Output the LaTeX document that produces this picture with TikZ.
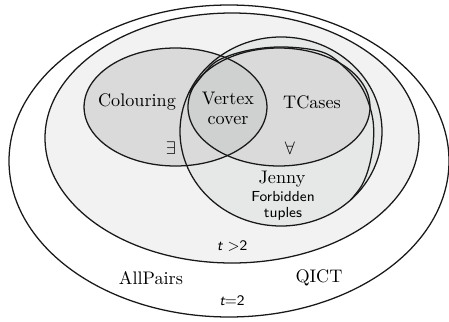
\documentclass[tikz,border=0pt]{standalone}
\usepackage{tikz}
\definecolor{bandgray}{HTML}{F2F2F2}
\definecolor{jennygray}{HTML}{E6E8E8}
\definecolor{setgray}{HTML}{DADADA}
\definecolor{capgray}{HTML}{CFD0D0}
\tikzset{
  outline/.style={draw=black!90, line width=0.7pt},
  lbl/.style={font=\fontsize{10}{11}\selectfont, align=center, inner sep=0pt},
  sflbl/.style={font=\sffamily\fontsize{8}{8.6}\selectfont, align=center, inner sep=0pt},
}
\begin{document}
\begin{tikzpicture}[x=0.55pt,y=-0.55pt]
\useasboundingbox (0,0) rectangle (449,322);
\fill[white] (0,0) rectangle (449,322);
% fills
\fill[white] (229,161) ellipse [x radius=121pt, y radius=85.8pt];
\fill[bandgray] (232,138) ellipse [x radius=102.85pt, y radius=68.75pt];
\fill[jennygray] (281,131.5) ellipse [x radius=55.55pt, y radius=51.98pt];
\fill[setgray] (175.5,107) ellipse [x radius=50.3pt, y radius=32.45pt];
\fill[setgray] (279,107) ellipse [x radius=50.05pt, y radius=32.45pt];
\begin{scope}
  \clip (175.5,107) ellipse [x radius=50.3pt, y radius=32.45pt];
  \fill[capgray] (279,107) ellipse [x radius=50.05pt, y radius=32.45pt];
\end{scope}
% outlines
\draw[outline] (229,161) ellipse [x radius=121pt, y radius=85.8pt];
\draw[outline] (232,138) ellipse [x radius=102.85pt, y radius=68.75pt];
\draw[outline] (281,131.5) ellipse [x radius=55.55pt, y radius=51.98pt];
\draw[outline] plot[smooth, tension=0.6] coordinates {
  (188.7,93) (207,70) (221,59) (250,50) (285,47) (322,52) (343,66)
  (362,88) (372,115) (373.5,140) (369.5,165) (362,185) (350.6,200)};
\draw[outline] (175.5,107) ellipse [x radius=50.3pt, y radius=32.45pt];
\draw[outline] (279,107) ellipse [x radius=50.05pt, y radius=32.45pt];
% labels
\node[lbl] (colouring) at (137,102) {Colouring};
\node[lbl] (vertex) at (228,108) {Vertex\\cover};
\node[lbl] (tcases) at (312,102) {TCases};
\node[lbl] (exists) at (171,148) {$\exists$};
\node[lbl] (forall) at (290,148) {$\forall$};
\node[lbl] (jenny) at (282,179) {Jenny};
\node[sflbl] (forbidden) at (283,206) {Forbidden\\tuples};
\node[sflbl] (tgt) at (232,246) {{\itshape t} >2};
\node[lbl] (allpairs) at (151,278) {AllPairs};
\node[lbl] (qict) at (319,278) {QICT};
\node[sflbl] (teq) at (232,301) {{\itshape t}=2};
\end{tikzpicture}
\end{document}
